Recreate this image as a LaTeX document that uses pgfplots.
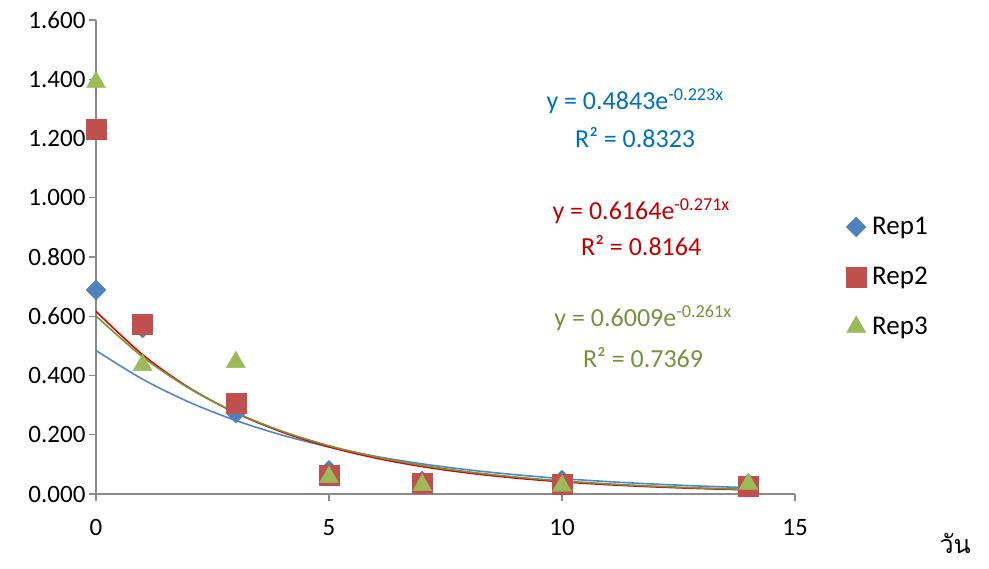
\documentclass[border=0pt]{standalone}
\usepackage{pgfplots}
\pgfplotsset{compat=1.18}
\usepackage{fontspec}
\setmainfont{Carlito}
\newfontfamily\thaifont[Script=Thai]{Loma}
\definecolor{rA}{HTML}{4F81BD}
\definecolor{rB}{HTML}{C0504D}
\definecolor{rC}{HTML}{9BBB59}
\definecolor{tA}{HTML}{4F87CC}
\definecolor{tB}{HTML}{E00000}
\definecolor{tC}{HTML}{77933C}
\definecolor{eA}{HTML}{0070C0}
\definecolor{eB}{HTML}{C00000}
\definecolor{eC}{HTML}{76923C}
\definecolor{axg}{HTML}{8C8C8C}
\begin{document}
\begin{tikzpicture}
\useasboundingbox (-96pt,-75pt) rectangle (893pt,494pt);
\begin{axis}[
  scale only axis, width=699pt, height=474pt,
  xmin=0, xmax=15, ymin=0, ymax=1.6,
  axis x line=bottom, axis y line=left,
  axis line style={axg, line width=1.2pt, -},
  xtick={0,5,10,15}, ytick={0,0.2,...,1.6},
  tick style={axg, line width=1.2pt},
  tick align=outside, major tick length=7pt,
  every tick label/.append style={font=\fontsize{25}{28}\selectfont, text=black},
  yticklabel style={/pgf/number format/.cd, fixed, fixed zerofill, precision=3, assume math mode=true},
  xticklabel style={/pgf/number format/assume math mode=true, yshift=-15pt},
  clip=false,
  legend style={at={(rel axis cs:1.073,0.588)}, anchor=north west, draw=none, fill=none,
    font=\fontsize{27}{30}\selectfont, row sep=27pt, inner sep=0pt},
  legend cell align=left,
  legend image code/.code={\path[draw=none, fill=none] (0,0) rectangle (0.3cm+14pt,0.1pt); \draw[#1] plot coordinates {(0.3cm,0cm)};},
]
\addplot[only marks, mark=square*, mark size=7pt, color=rA, mark options={rotate=45, fill=rA, draw=rA}] coordinates {
(0,0.689) (1,0.560) (3,0.273) (5,0.080) (7,0.044) (10,0.047) (14,0.035)};
\addlegendentry{Rep1}
\addplot[only marks, mark=square*, mark size=10pt, color=rB, mark options={fill=rB, draw=rB}] coordinates {
(0,1.232) (1,0.574) (3,0.307) (5,0.064) (7,0.037) (10,0.034) (14,0.027)};
\addlegendentry{Rep2}
\addplot[only marks, mark=triangle*, mark size=11pt, color=rC, mark options={fill=rC, draw=rC}] coordinates {
(0,1.390) (1,0.435) (3,0.445) (5,0.057) (7,0.030) (10,0.027) (14,0.034)};
\addlegendentry{Rep3}
% trendlines (values of the fitted curves shown on the chart)
\addplot[tA, line width=1.6pt, smooth, no marks, forget plot] coordinates {
(0,0.4843) (1,0.38749) (2,0.31003) (3,0.24806) (4,0.19847) (5,0.15880) (6,0.12705) (7,0.10166)
(8,0.08134) (9,0.06508) (10,0.05207) (11,0.04166) (12,0.03333) (13,0.02667) (14,0.02134)};
\addplot[tB, line width=1.6pt, smooth, no marks, forget plot] coordinates {
(0,0.6164) (1,0.47011) (2,0.35853) (3,0.27344) (4,0.20854) (5,0.15905) (6,0.12130) (7,0.09251)
(8,0.07055) (9,0.05381) (10,0.04104) (11,0.03130) (12,0.02387) (13,0.01820) (14,0.01388)};
\addplot[tC, line width=1.6pt, smooth, no marks, forget plot] coordinates {
(0,0.6009) (1,0.46289) (2,0.35658) (3,0.27468) (4,0.21160) (5,0.16300) (6,0.12556) (7,0.09673)
(8,0.07451) (9,0.05740) (10,0.04422) (11,0.03406) (12,0.02624) (13,0.02021) (14,0.01557)};
\begin{scope}[every node/.style={font=\fontsize{26}{30}\selectfont, inner sep=0pt}]
\node[text=eA] at (axis cs:11.57,1.327) {y = 0.4843e\textsuperscript{-0.223x}};
\node[text=eA] at (axis cs:11.57,1.202) {R² = 0.8323};
\node[text=eB] at (axis cs:11.70,0.955) {y = 0.6164e\textsuperscript{-0.271x}};
\node[text=eB] at (axis cs:11.70,0.840) {R² = 0.8164};
\node[text=eC] at (axis cs:11.74,0.594) {y = 0.6009e\textsuperscript{-0.261x}};
\node[text=eC] at (axis cs:11.74,0.462) {R² = 0.7369};
\end{scope}
\node[font=\thaifont\fontsize{25}{28}\selectfont, inner sep=0pt] at (rel axis cs:1.229,-0.105) {วัน};
\end{axis}
\end{tikzpicture}
\end{document}
